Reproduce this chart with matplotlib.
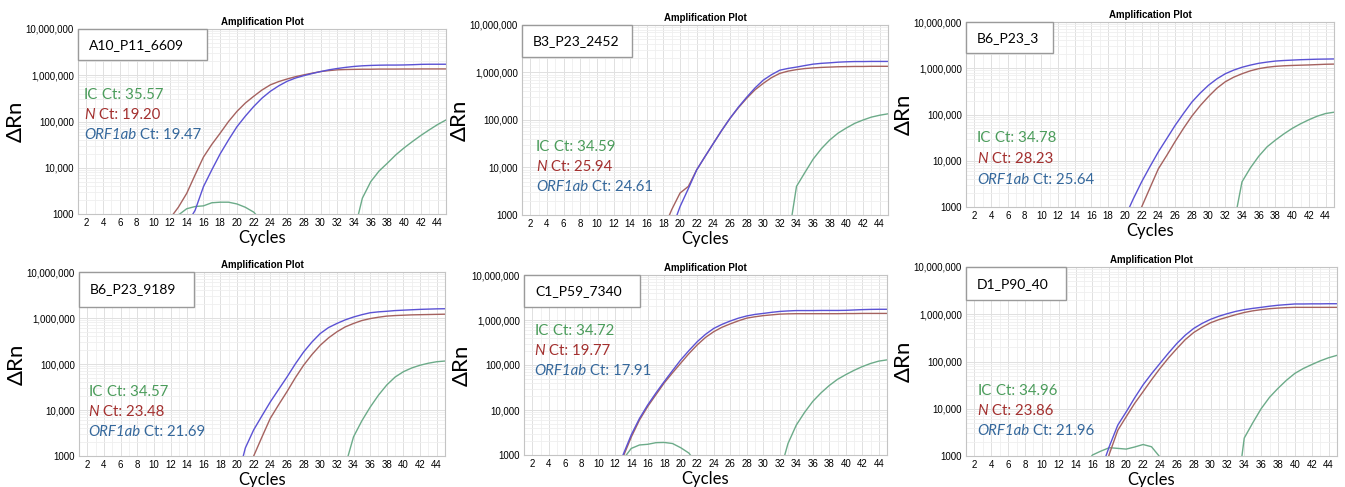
import matplotlib
matplotlib.use('Agg')
import matplotlib.pyplot as plt
import numpy as np
from matplotlib.patches import Rectangle
from matplotlib.ticker import FixedLocator, FuncFormatter, LogLocator

W, H = 1345, 487

cycles = np.arange(1, 46)

samples = ['A10_P11_6609', 'B3_P23_2452', 'B6_P23_3',
           'B6_P23_9189', 'C1_P59_7340', 'D1_P90_40']
ct_ic = ['35.57', '34.59', '34.78', '34.57', '34.72', '34.96']
ct_n = ['19.20', '25.94', '28.23', '23.48', '19.77', '23.86']
ct_orf = ['19.47', '24.61', '25.64', '21.69', '17.91', '21.96']

# delta Rn per cycle (1..45), in thousands
a10_n = [0.3, 0.3, 0.3, 0.3, 0.3, 0.3, 0.3, 0.3, 0.3, 0.3, 0.3, 0.8, 1.4, 2.8, 7.0,
         17, 32, 56, 100, 165, 250, 350, 480, 620, 730, 830, 930, 1020, 1110, 1200,
         1260, 1310, 1330, 1340, 1350, 1350, 1360, 1360, 1360, 1365, 1365, 1370, 1370, 1370, 1370]
a10_orf = [0.3, 0.3, 0.3, 0.3, 0.3, 0.3, 0.3, 0.3, 0.3, 0.3, 0.3, 0.3, 0.3, 0.6, 1.2,
           3.9, 9.0, 20, 40, 77, 130, 210, 320, 450, 590, 740, 870, 980, 1090, 1200,
           1310, 1400, 1480, 1550, 1600, 1630, 1650, 1660, 1660, 1670, 1690, 1720, 1730, 1730, 1730]
a10_ic = [0.3, 0.3, 0.3, 0.3, 0.3, 0.3, 0.3, 0.3, 0.3, 0.3, 0.3, 0.3, 0.95, 1.3, 1.45,
          1.5, 1.75, 1.8, 1.8, 1.65, 1.4, 1.1, 0.7, 0.4, 0.3, 0.3, 0.3, 0.3, 0.3, 0.3,
          0.3, 0.3, 0.3, 0.4, 2.2, 5.0, 8.5, 12.6, 19, 27, 37, 50, 66, 86, 108]

b3_n = [0.3, 0.3, 0.3, 0.3, 0.3, 0.3, 0.3, 0.3, 0.3, 0.3, 0.3, 0.3, 0.3, 0.3, 0.3,
        0.3, 0.3, 0.5, 1.3, 2.9, 4.0, 8.9, 17, 32, 60, 108, 180, 285, 430, 590,
        780, 960, 1070, 1150, 1210, 1250, 1280, 1300, 1320, 1330, 1340, 1340, 1350, 1350, 1350]
b3_orf = [0.3, 0.3, 0.3, 0.3, 0.3, 0.3, 0.3, 0.3, 0.3, 0.3, 0.3, 0.3, 0.3, 0.3, 0.3,
          0.3, 0.3, 0.3, 0.5, 1.5, 3.6, 8.9, 17, 32, 60, 108, 185, 300, 470, 690,
          900, 1120, 1220, 1300, 1400, 1500, 1560, 1600, 1650, 1680, 1700, 1700, 1710, 1710, 1710]
b3_ic = [0.3, 0.3, 0.3, 0.3, 0.3, 0.3, 0.3, 0.3, 0.3, 0.3, 0.3, 0.3, 0.3, 0.3, 0.3,
         0.3, 0.3, 0.3, 0.3, 0.3, 0.3, 0.3, 0.3, 0.3, 0.3, 0.3, 0.3, 0.3, 0.3, 0.3,
         0.3, 0.3, 0.3, 4.0, 7.8, 15, 25, 38, 53, 68, 85, 100, 115, 126, 135]

b6_3_n = [0.3, 0.3, 0.3, 0.3, 0.3, 0.3, 0.3, 0.3, 0.3, 0.3, 0.3, 0.3, 0.3, 0.3, 0.3,
          0.3, 0.3, 0.3, 0.3, 0.3, 0.3, 1.0, 2.6, 6.7, 13, 26, 50, 92, 155, 245,
          370, 510, 640, 760, 880, 980, 1050, 1100, 1130, 1150, 1165, 1180, 1200, 1220, 1230]
b6_3_orf = [0.3, 0.3, 0.3, 0.3, 0.3, 0.3, 0.3, 0.3, 0.3, 0.3, 0.3, 0.3, 0.3, 0.3, 0.3,
            0.3, 0.3, 0.3, 0.3, 0.6, 1.5, 3.5, 7.5, 15.6, 30, 58, 105, 185, 290, 430,
            590, 760, 910, 1050, 1170, 1280, 1360, 1430, 1470, 1500, 1530, 1550, 1570, 1580, 1590]
b6_3_ic = [0.3, 0.3, 0.3, 0.3, 0.3, 0.3, 0.3, 0.3, 0.3, 0.3, 0.3, 0.3, 0.3, 0.3, 0.3,
           0.3, 0.3, 0.3, 0.3, 0.3, 0.3, 0.3, 0.3, 0.3, 0.3, 0.3, 0.3, 0.3, 0.3, 0.3,
           0.3, 0.3, 0.4, 3.5, 7.0, 12.5, 20, 28, 38, 50, 63, 77, 92, 105, 112]

b6_9189_n = [0.3, 0.3, 0.3, 0.3, 0.3, 0.3, 0.3, 0.3, 0.3, 0.3, 0.3, 0.3, 0.3, 0.3, 0.3,
             0.3, 0.3, 0.3, 0.3, 0.3, 0.3, 1.0, 2.6, 6.6, 13, 25, 50, 94, 160, 255,
             370, 500, 640, 760, 880, 970, 1040, 1100, 1130, 1150, 1170, 1180, 1190, 1200, 1210]
b6_9189_orf = [0.3, 0.3, 0.3, 0.3, 0.3, 0.3, 0.3, 0.3, 0.3, 0.3, 0.3, 0.3, 0.3, 0.3, 0.3,
               0.3, 0.3, 0.3, 0.3, 0.3, 1.5, 3.7, 7.5, 15, 28, 52, 100, 182, 300, 460,
               620, 760, 910, 1050, 1180, 1300, 1360, 1400, 1450, 1480, 1510, 1540, 1560, 1580, 1590]
b6_9189_ic = [0.3, 0.3, 0.3, 0.3, 0.3, 0.3, 0.3, 0.3, 0.3, 0.3, 0.3, 0.3, 0.3, 0.3, 0.3,
              0.3, 0.3, 0.3, 0.3, 0.3, 0.3, 0.3, 0.3, 0.3, 0.3, 0.3, 0.3, 0.3, 0.3, 0.3,
              0.3, 0.3, 0.6, 2.6, 5.8, 11.5, 21, 35, 52, 68, 82, 94, 104, 112, 116]

c1_n = [0.3, 0.3, 0.3, 0.3, 0.3, 0.3, 0.3, 0.3, 0.3, 0.3, 0.3, 0.3, 0.9, 2.5, 6.0,
        12, 22, 40, 67, 110, 180, 280, 410, 550, 690, 820, 960, 1100, 1180, 1250,
        1300, 1350, 1370, 1380, 1380, 1380, 1380, 1380, 1380, 1390, 1390, 1400, 1400, 1400, 1400]
c1_orf = [0.3, 0.3, 0.3, 0.3, 0.3, 0.3, 0.3, 0.3, 0.3, 0.3, 0.3, 0.3, 1.0, 2.8, 6.5,
          13, 24, 43, 75, 130, 210, 330, 480, 650, 800, 950, 1100, 1230, 1330, 1400,
          1480, 1550, 1590, 1620, 1620, 1620, 1630, 1630, 1630, 1640, 1670, 1700, 1720, 1730, 1730]
c1_ic = [0.3, 0.3, 0.3, 0.3, 0.3, 0.3, 0.3, 0.3, 0.3, 0.3, 0.3, 0.3, 0.8, 1.4, 1.67,
         1.73, 1.88, 1.9, 1.8, 1.45, 1.1, 0.6, 0.3, 0.3, 0.3, 0.3, 0.3, 0.3, 0.3, 0.3,
         0.3, 0.4, 1.8, 4.6, 8.8, 15.5, 24, 35, 48, 61, 76, 92, 108, 122, 130]

d1_n = [0.3, 0.3, 0.3, 0.3, 0.3, 0.3, 0.3, 0.3, 0.3, 0.3, 0.3, 0.3, 0.3, 0.3, 0.3,
        0.3, 0.3, 1.1, 3.5, 6.8, 13, 23, 41, 71, 118, 187, 290, 410, 530, 660,
        770, 870, 980, 1090, 1180, 1250, 1310, 1350, 1380, 1400, 1400, 1400, 1400, 1400, 1400]
d1_orf = [0.3, 0.3, 0.3, 0.3, 0.3, 0.3, 0.3, 0.3, 0.3, 0.3, 0.3, 0.3, 0.3, 0.3, 0.3,
          0.3, 0.5, 1.6, 4.5, 8.6, 17, 32, 55, 91, 150, 240, 360, 500, 640, 780,
          910, 1030, 1150, 1250, 1330, 1400, 1480, 1550, 1600, 1650, 1650, 1660, 1660, 1670, 1670]
d1_ic = [0.3, 0.3, 0.3, 0.3, 0.3, 0.3, 0.3, 0.3, 0.3, 0.3, 0.3, 0.3, 0.3, 0.3, 0.6,
         1.05, 1.27, 1.5, 1.45, 1.4, 1.55, 1.75, 1.57, 0.95, 0.4, 0.3, 0.3, 0.3, 0.3, 0.3,
         0.3, 0.3, 0.1, 2.4, 5.0, 10, 17.5, 27, 40, 56, 71, 86, 103, 120, 135]

curves_n = [a10_n, b3_n, b6_3_n, b6_9189_n, c1_n, d1_n]
curves_orf = [a10_orf, b3_orf, b6_3_orf, b6_9189_orf, c1_orf, d1_orf]
curves_ic = [a10_ic, b3_ic, b6_3_ic, b6_9189_ic, c1_ic, d1_ic]

# axes boxes in pixels: left, right, top, bottom
boxes = [(78, 446, 29, 214), (522, 888, 25, 215), (966, 1334, 22, 207),
         (79, 445, 272, 456), (524, 887, 275, 455), (966, 1337, 267, 456)]
# sample box size (axes fraction) and Ct text rows (axes fraction)
label_w = [0.35, 0.30, 0.236, 0.314, 0.32, 0.27]
label_h = [0.17, 0.17, 0.17, 0.19, 0.18, 0.175]
ct_x = [0.016, 0.038, 0.03, 0.025, 0.028, 0.03]
ct_y = [0.643, 0.36, 0.373, 0.348, 0.689, 0.344]
ct_gap = [0.107, 0.107, 0.113, 0.108, 0.111, 0.106]

LINE_N, LINE_ORF, LINE_IC = '#a5625f', '#5b52d4', '#6cab89'
TXT_N, TXT_ORF, TXT_IC = '#a3302f', '#35689c', '#4b9c5b'
FONT = ['Lato', 'DejaVu Sans']
TICKFONT = 'Liberation Sans'
CT_SIZE = 10.8

fig = plt.figure(figsize=(W / 100, H / 100), dpi=100)


def ylab(v, pos):
    return '1000' if v == 1000 else f'{int(round(v)):,}'


def ct_line(ax, x, y, head, italic, value, color):
    t = ax.text(x, y, head, transform=ax.transAxes, color=color, fontsize=CT_SIZE,
                family=FONT, style='italic' if italic else 'normal', va='center',
                ha='left')
    ax.annotate(f' Ct: {value}', xy=(1, 0), xycoords=t, va='bottom', ha='left',
                color=color, fontsize=CT_SIZE, family=FONT)


for i, (l, r, t, b) in enumerate(boxes):
    ax = fig.add_axes([l / W, 1 - b / H, (r - l) / W, (b - t) / H])
    x = cycles
    ax.plot(x, np.array(curves_ic[i]) * 1000, color=LINE_IC, lw=1.0)
    ax.plot(x, np.array(curves_n[i]) * 1000, color=LINE_N, lw=1.0)
    ax.plot(x, np.array(curves_orf[i]) * 1000, color=LINE_ORF, lw=1.0)

    ax.set_yscale('log')
    ax.set_ylim(1000, 1e7)
    ax.set_xlim(1, 45)
    ax.xaxis.set_major_locator(FixedLocator(list(range(2, 45, 2))))
    ax.xaxis.set_minor_locator(FixedLocator(list(range(1, 46))))
    ax.yaxis.set_major_locator(FixedLocator([1e3, 1e4, 1e5, 1e6, 1e7]))
    ax.yaxis.set_minor_locator(LogLocator(base=10, subs=np.arange(2, 10)))
    ax.yaxis.set_major_formatter(FuncFormatter(ylab))
    ax.tick_params(which='both', length=0, labelsize=7, pad=3)
    for lab in ax.get_xticklabels() + ax.get_yticklabels():
        lab.set_family(TICKFONT)
    ax.grid(which='minor', color='#efefef', lw=0.6)
    ax.grid(which='major', color='#e0e0e0', lw=0.7)
    ax.set_axisbelow(True)
    for s in ax.spines.values():
        s.set_color('#c4c4c4')

    ax.set_title('Amplification Plot', fontsize=7, fontweight='bold',
                 family=TICKFONT, pad=3)
    ax.set_xlabel('Cycles', fontsize=12, family=FONT, labelpad=1)
    ax.set_ylabel('\u0394Rn', fontsize=16, family=FONT, labelpad=0)

    ax.add_patch(Rectangle((0, 1 - label_h[i]), label_w[i], label_h[i],
                           transform=ax.transAxes, facecolor='white',
                           edgecolor='#9a9a9a', lw=1.0, zorder=5, clip_on=False))
    ax.text(0.03, 1 - label_h[i] / 2, samples[i], transform=ax.transAxes,
            fontsize=10, family=FONT, va='center', ha='left', zorder=6)

    ct_line(ax, ct_x[i], ct_y[i], 'IC', False, ct_ic[i], TXT_IC)
    ct_line(ax, ct_x[i], ct_y[i] - ct_gap[i], 'N', True, ct_n[i], TXT_N)
    ct_line(ax, ct_x[i], ct_y[i] - 2 * ct_gap[i], 'ORF1ab', True, ct_orf[i], TXT_ORF)

fig.savefig('out.png', dpi=100)
